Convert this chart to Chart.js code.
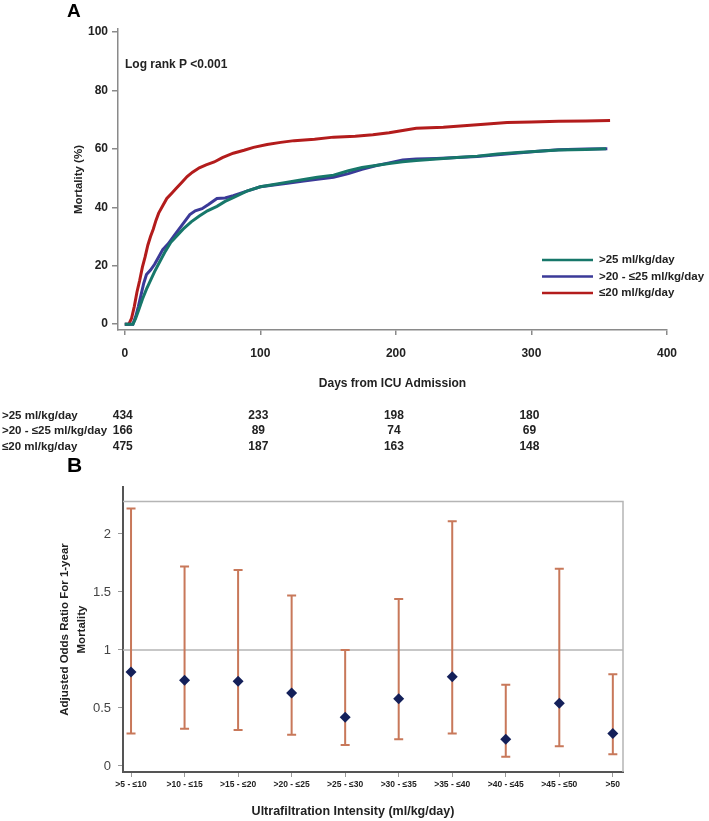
<!DOCTYPE html>
<html>
<head>
<meta charset="utf-8">
<script src="https://cdn.jsdelivr.net/npm/chart.js@4.4.1/dist/chart.umd.min.js"></script>
<style>
  html, body { margin: 0; padding: 0; background: #fff; }
  #wrap { position: relative; width: 709px; height: 821px; }
  canvas { position: absolute; left: 0; }
  #km { top: 0; }
  #or { top: 440px; }
</style>
</head>
<body>
<div id="wrap">
  <canvas id="km" width="709" height="460"></canvas>
  <canvas id="or" width="709" height="381"></canvas>
</div>
<script>
const FONT = '"Liberation Sans", Arial, sans-serif';

// ---- panel A: cumulative mortality, [day, %]
const groupNames = [">25 ml/kg/day", ">20 - ≤25 ml/kg/day", "≤20 ml/kg/day"];

const kmOver25 = [
  [0, 0], [6, 0], [8, 2], [10, 4.5], [13, 8.5], [16, 12], [19, 15], [22, 18], [26, 21.5],
  [30, 25], [34, 28], [38, 30], [43, 32.5], [49, 35], [55, 37], [61, 38.8], [68, 40.3],
  [74, 42], [80, 43.3], [90, 45.5], [100, 47], [110, 47.8], [120, 48.6], [132, 49.5],
  [142, 50.3], [154, 51], [165, 52.5], [175, 53.6], [185, 54.3], [195, 55], [205, 55.6],
  [215, 56], [230, 56.5], [245, 57], [260, 57.5], [275, 58.2], [290, 58.7], [305, 59.2],
  [320, 59.6], [340, 59.8], [355, 60]
];
const km20to25 = [
  [0, 0], [6, 0], [8, 2.5], [10, 6], [12, 10], [14, 14], [16, 17], [19, 18.5], [22, 20.5],
  [25, 23], [28, 25.5], [32, 27.5], [36, 30], [40, 32.5], [44, 35], [48, 37.5], [52, 38.8],
  [57, 39.5], [62, 41], [68, 43], [74, 43.2], [80, 44], [90, 45.5], [100, 47], [110, 47.6],
  [120, 48.2], [132, 49], [142, 49.6], [154, 50.3], [165, 51.5], [175, 53], [185, 54.2],
  [195, 55.2], [205, 56.2], [215, 56.5], [230, 56.7], [245, 57], [260, 57.4], [275, 58],
  [290, 58.6], [305, 59.2], [320, 59.7], [340, 59.9], [356, 60]
];
const kmUnder20 = [
  [0, 0], [3, 0], [5, 2], [7, 6], [9, 11], [11, 15], [13, 19.5], [15, 23], [17, 27],
  [19, 30], [21, 32.5], [23, 35.5], [25, 38], [28, 40.5], [31, 43], [35, 45], [38, 46.5],
  [42, 48.5], [46, 50.5], [50, 52], [55, 53.5], [60, 54.5], [66, 55.5], [72, 57], [80, 58.5],
  [88, 59.5], [95, 60.5], [105, 61.5], [115, 62.2], [125, 62.8], [140, 63.3], [154, 64],
  [170, 64.3], [183, 64.8], [195, 65.5], [205, 66.3], [215, 67], [235, 67.4], [250, 67.9],
  [265, 68.4], [282, 69], [300, 69.2], [320, 69.4], [340, 69.5], [358, 69.7]
];

const riskDays = [0, 100, 200, 300];
const riskOver25 = [434, 233, 198, 180];
const risk20to25 = [166, 89, 74, 69];
const riskUnder20 = [475, 187, 163, 148];

// ---- panel B: adjusted odds ratios
const ufBands = [">5 - ≤10", ">10 - ≤15", ">15 - ≤20", ">20 - ≤25", ">25 - ≤30",
                 ">30 - ≤35", ">35 - ≤40", ">40 - ≤45", ">45 - ≤50", ">50"];
const orEstimate = [0.81, 0.74, 0.73, 0.63, 0.42, 0.58, 0.77, 0.23, 0.54, 0.28];
const orLower    = [0.28, 0.32, 0.31, 0.27, 0.18, 0.23, 0.28, 0.08, 0.17, 0.10];
const orUpper    = [2.22, 1.72, 1.69, 1.47, 1.00, 1.44, 2.11, 0.70, 1.70, 0.79];
const orTicks    = [0, 0.5, 1, 1.5, 2];

const toXY = arr => arr.map(p => ({ x: p[0], y: p[1] }));

const kmExtras = {
  id: 'kmExtras',
  afterDraw(chart) {
    const { ctx } = chart;
    const x = chart.scales.x;
    ctx.save();
    ctx.textBaseline = 'middle';
    ctx.textAlign = 'left';
    ctx.fillStyle = '#000';
    ctx.font = 'bold 19px ' + FONT;
    ctx.fillText('A', 67, 12);

    ctx.fillStyle = '#222';
    ctx.font = 'bold 12px ' + FONT;
    ctx.fillText('Log rank P <0.001', 125, 65);

    // legend inside the plot
    ctx.font = 'bold 11.5px ' + FONT;
    chart.data.datasets.forEach((ds, i) => {
      const y = 260 + i * 16.5;
      ctx.strokeStyle = ds.borderColor;
      ctx.lineWidth = 2.5;
      ctx.beginPath();
      ctx.moveTo(542, y);
      ctx.lineTo(593, y);
      ctx.stroke();
      ctx.fillText(ds.label, 599, y);
    });

    // numbers at risk
    [riskOver25, risk20to25, riskUnder20].forEach((row, r) => {
      const y = 415.5 + r * 15.5;
      ctx.font = 'bold 11.5px ' + FONT;
      ctx.textAlign = 'left';
      ctx.fillText(groupNames[r], 2, y);
      ctx.font = 'bold 12px ' + FONT;
      ctx.textAlign = 'center';
      row.forEach((n, k) => ctx.fillText(String(n), x.getPixelForValue(riskDays[k]) - 2, y));
    });
    ctx.restore();
  }
};

new Chart(document.getElementById('km'), {
  type: 'line',
  data: {
    datasets: [
      { label: groupNames[0], data: toXY(kmOver25), borderColor: '#17776a' },
      { label: groupNames[1], data: toXY(km20to25), borderColor: '#3b3a98' },
      { label: groupNames[2], data: toXY(kmUnder20), borderColor: '#b31c1c' }
    ]
  },
  options: {
    responsive: false,
    animation: false,
    devicePixelRatio: 1,
    layout: { padding: { left: 0, top: 29, right: 42, bottom: 69 } },
    plugins: { legend: { display: false }, tooltip: { enabled: false } },
    elements: { point: { radius: 0 }, line: { borderWidth: 3, tension: 0 } },
    scales: {
      x: {
        type: 'linear', min: -5, max: 400,
        afterBuildTicks: s => { s.ticks = [0, 100, 200, 300, 400].map(v => ({ value: v })); },
        afterFit: s => { s.height = 61; },
        grid: { drawOnChartArea: false, drawTicks: true, tickLength: 5, color: '#8a8a8a', lineWidth: 1.5 },
        border: { color: '#8a8a8a', width: 1.5 },
        ticks: { color: '#222', font: { family: FONT, size: 12, weight: 'bold' }, padding: 11, maxRotation: 0 },
        title: { display: true, text: 'Days from ICU Admission', color: '#222',
                 font: { family: FONT, size: 12, weight: 'bold' }, padding: { top: 0, bottom: 0 } }
      },
      y: {
        min: -2, max: 101,
        afterBuildTicks: s => { s.ticks = [0, 20, 40, 60, 80, 100].map(v => ({ value: v })); },
        afterFit: s => { s.width = 118; },
        grid: { drawOnChartArea: false, drawTicks: true, tickLength: 6, color: '#8a8a8a', lineWidth: 1.5 },
        border: { color: '#8a8a8a', width: 1.5 },
        ticks: { color: '#222', font: { family: FONT, size: 12, weight: 'bold' }, padding: 4 },
        title: { display: true, text: 'Mortality (%)', color: '#222',
                 font: { family: FONT, size: 11.5, weight: 'bold' }, padding: { top: 72, bottom: 0 } }
      }
    }
  },
  plugins: [kmExtras]
});

const FRAME_TOP = 2.28;

const orExtras = {
  id: 'orExtras',
  beforeDatasetsDraw(chart) {
    const { ctx, chartArea: a } = chart;
    const x = chart.scales.x, y = chart.scales.y;
    ctx.save();
    // frame and reference line
    ctx.strokeStyle = '#b5b5b5';
    ctx.lineWidth = 1.5;
    const ft = y.getPixelForValue(FRAME_TOP);
    ctx.beginPath();
    ctx.moveTo(a.left, ft);
    ctx.lineTo(a.right, ft);
    ctx.lineTo(a.right, a.bottom);
    const one = y.getPixelForValue(1);
    ctx.moveTo(a.left, one);
    ctx.lineTo(a.right, one);
    ctx.stroke();

    // confidence intervals
    ctx.strokeStyle = '#c8785a';
    ctx.lineWidth = 2;
    orEstimate.forEach((_, i) => {
      const px = x.getPixelForValue(i + 1);
      const hi = y.getPixelForValue(orUpper[i]);
      const lo = y.getPixelForValue(orLower[i]);
      ctx.beginPath();
      ctx.moveTo(px, hi); ctx.lineTo(px, lo);
      ctx.moveTo(px - 4.5, hi); ctx.lineTo(px + 4.5, hi);
      ctx.moveTo(px - 4.5, lo); ctx.lineTo(px + 4.5, lo);
      ctx.stroke();
    });
    ctx.restore();
  },
  afterDraw(chart) {
    const { ctx } = chart;
    ctx.save();
    ctx.textBaseline = 'middle';
    ctx.fillStyle = '#000';
    ctx.font = 'bold 21px ' + FONT;
    ctx.textAlign = 'left';
    ctx.fillText('B', 67, 26);
    ctx.fillStyle = '#222';
    ctx.font = 'bold 12.5px ' + FONT;
    ctx.textAlign = 'center';
    ctx.fillText('Ultrafiltration Intensity (ml/kg/day)', 353, 372);
    ctx.restore();
  }
};

new Chart(document.getElementById('or'), {
  type: 'scatter',
  data: {
    datasets: [{
      label: 'Adjusted OR',
      data: orEstimate.map((v, i) => ({ x: i + 1, y: v })),
      pointStyle: 'rectRot',
      pointRadius: 5.5,
      backgroundColor: '#14205a',
      borderColor: '#14205a',
      borderWidth: 0
    }]
  },
  options: {
    responsive: false,
    animation: false,
    devicePixelRatio: 1,
    layout: { padding: { left: 0, top: 47, right: 86, bottom: 1 } },
    plugins: { legend: { display: false }, tooltip: { enabled: false } },
    scales: {
      x: {
        type: 'linear', min: 0.85, max: 10.19,
        afterBuildTicks: s => { s.ticks = ufBands.map((_, i) => ({ value: i + 1 })); },
        afterFit: s => { s.height = 48; },
        grid: { drawOnChartArea: false, drawTicks: true, tickLength: 5, color: '#999', lineWidth: 1 },
        border: { color: '#555', width: 2 },
        ticks: {
          autoSkip: false, maxRotation: 0, padding: 3, color: '#222',
          font: { family: FONT, size: 8.5, weight: 'bold' },
          callback: v => ufBands[v - 1]
        }
      },
      y: {
        min: -0.052, max: 2.405,
        afterBuildTicks: s => { s.ticks = orTicks.map(v => ({ value: v })); },
        afterFit: s => { s.width = 123; },
        grid: { drawOnChartArea: false, drawTicks: true, tickLength: 5, color: '#999', lineWidth: 1 },
        border: { color: '#555', width: 2 },
        ticks: { color: '#444', font: { family: FONT, size: 13 }, padding: 7, callback: v => String(v) },
        title: {
          display: true, text: ['Adjusted Odds Ratio For 1-year', 'Mortality'], color: '#222',
          font: { family: FONT, size: 11.5, weight: 'bold', lineHeight: 1.48 },
          padding: { top: 56.5, bottom: 0 }
        }
      }
    }
  },
  plugins: [orExtras]
});
</script>
</body>
</html>
